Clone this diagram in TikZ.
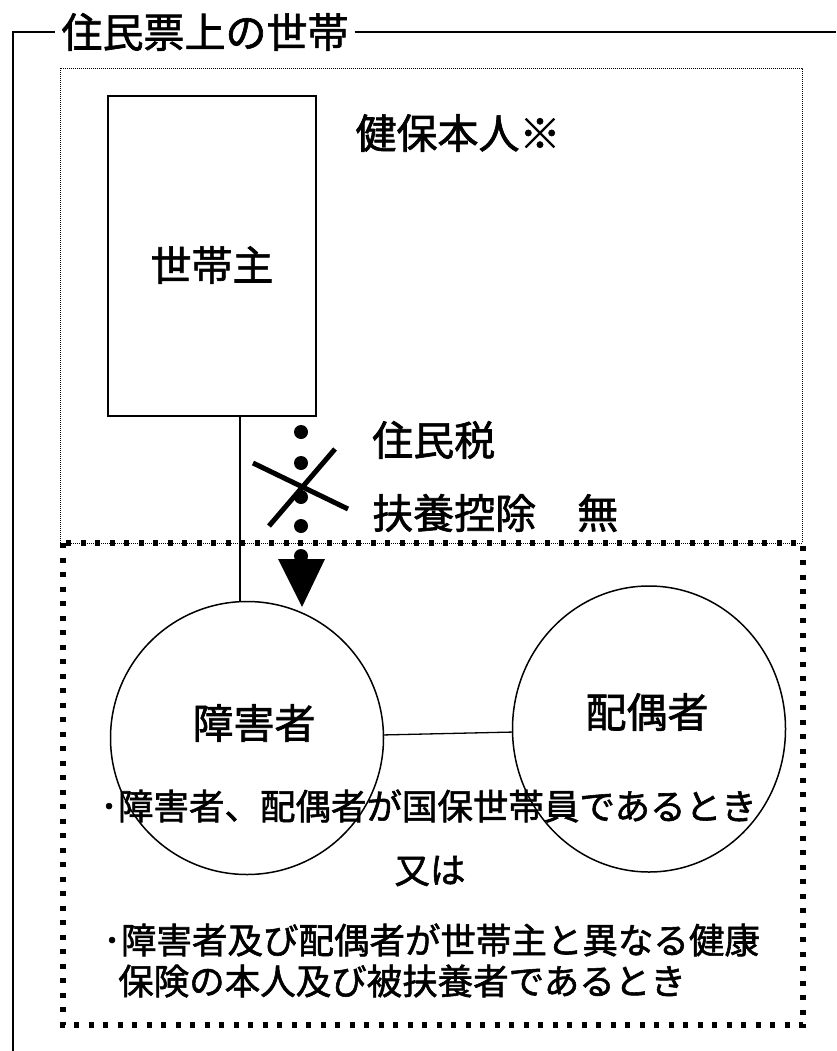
\documentclass[tikz,border=0pt]{standalone}
\usepackage{fontspec}
\setmainfont{Noto Sans CJK JP}[UprightFeatures={FakeBold=1.6}]
\usetikzlibrary{shapes.geometric, positioning}

\begin{document}
\begin{tikzpicture}[x=1pt, y=-1pt,
    big/.style={inner sep=0pt, font=\fontsize{41}{48}\selectfont},
    small/.style={inner sep=0pt, anchor=west, font=\fontsize{35.5}{42}\selectfont},
    finedots/.style={line width=0.8pt, dash pattern=on 0.8pt off 1.2pt},
    bigdots/.style={line width=5.5pt, dash pattern=on 5pt off 9.5pt},
    person/.style={draw, line width=1.5pt, inner sep=0pt}]
  \useasboundingbox (0,0) rectangle (836,1051);
  \node[big] (t) at (205,32) {住民票上の世帯};
  \draw[line width=1.6pt] (13,1051) |- ([xshift=-6pt]t.west);
  \draw[line width=1.6pt] ([xshift=6pt]t.east) -- (836,32);
  \draw[finedots] (60,68) rectangle (802,543);
  \draw[bigdots] (63,543) rectangle (803,1025);
  \node[person, minimum width=208pt, minimum height=320pt] (head) at (212,256) {};
  \node[big] (headt) at (212,265) {世帯主};
  \node[big] (hon) at (458,133) {健保本人※};
  \node[person, circle, minimum size=273pt] (dis) at (247,738) {};
  \node[person, ellipse, minimum width=273pt, minimum height=286pt] (sp) at (649,729) {};
  \node[big] (dist) at (254,723) {障害者};
  \node[big] (spt) at (647,712) {配偶者};
  \draw[line width=1.4pt] (head.south -| dis.93) -- (dis.93);
  \draw[line width=1.3pt] (dis) -- (sp);
  \foreach \y in {432,463,497,526,556}
    \fill (301,\y) circle (7pt);
  \fill (278,559) -- (325,559) -- (302,607) -- cycle;
  \draw[line width=5pt] (253,463) -- (348,509);
  \draw[line width=5pt] (335,449) -- (269,526);
  \node[big, anchor=west] (tax) at (372,440) {住民税};
  \node[big, anchor=west] (fuyo) at (372,513) {扶養控除　無};
  \node[small] (l1) at (100,806) {･障害者、配偶者が国保世帯員であるとき};
  \node[small, anchor=center] (or) at (430,871) {又は};
  \node[small] (l3) at (103,940) {･障害者及び配偶者が世帯主と異なる健康};
  \node[small] (l4) at (118,981) {保険の本人及び被扶養者であるとき};
\end{tikzpicture}
\end{document}
